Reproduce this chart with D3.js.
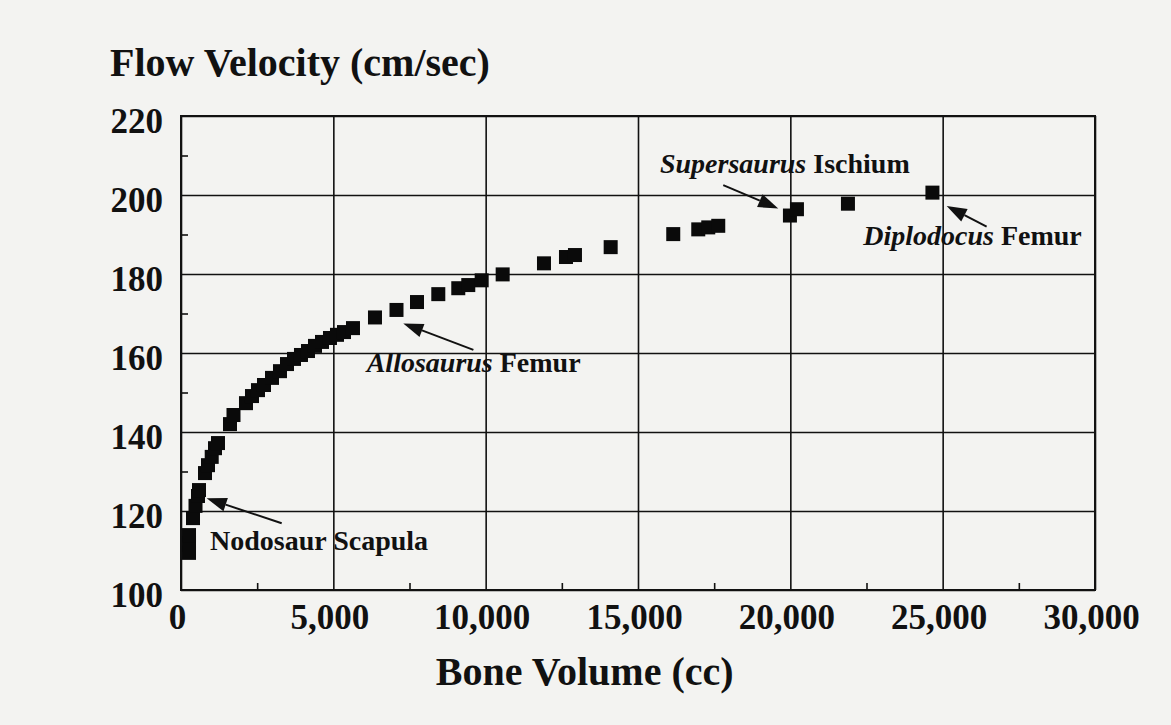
<!DOCTYPE html>
<html lang="en">
<head>
  <meta charset="utf-8"/>
  <title>Flow Velocity vs Bone Volume</title>
  <script src="https://cdnjs.cloudflare.com/ajax/libs/d3/7.8.5/d3.min.js"></script>
  <style>
    html, body { margin: 0; padding: 0; background: #f3f3f1; }
    svg { display: block; font-family: "Liberation Serif", "Times New Roman", serif; }
  </style>
</head>
<body>
<svg id="chart" width="1171" height="725"></svg>
<script>
  // bone volume (cc) and flow velocity (cm/sec)
  var volume = [263, 263, 263, 394, 476, 558, 591, 788, 886, 1008, 1116, 1214, 1608, 1723,
    2133, 2330, 2527, 2724, 2987, 3249, 3479, 3709, 3938, 4168, 4398, 4628, 4890, 5120, 5350, 5645,
    6367, 7073, 7746, 8445, 9101, 9429, 9869, 10558, 11914, 12636, 12931, 14103,
    16157, 16978, 17306, 17634, 19987, 20217, 21891, 24664];
  var velocity = [109.4, 111.9, 113.9, 118.2, 121.3, 123.8, 125.3, 129.6, 131.6, 133.7, 135.9, 137.2, 142.0, 144.3,
    147.3, 149.1, 150.6, 151.9, 153.7, 155.4, 157.2, 158.5, 159.5, 160.5, 161.8, 162.8, 163.8, 164.6, 165.3, 166.3,
    169.0, 170.9, 172.9, 174.9, 176.4, 177.2, 178.4, 179.9, 182.7, 184.3, 184.8, 186.8,
    190.1, 191.3, 191.8, 192.2, 194.8, 196.4, 197.8, 200.6];

  var xTicks = [0, 5000, 10000, 15000, 20000, 25000, 30000];
  var yTicks = [100, 120, 140, 160, 180, 200, 220];
  var xMinor = [2500, 7500, 12500, 17500, 22500, 27500];
  var yMinor = [110, 130, 150, 170, 190, 210];

  // annotations: label parts, label anchor, arrow tail and arrow tip (data units)
  var notes = [
    { parts: [["Nodosaur", false], [" Scapula", false]], at: [952, 110.1], from: [3305, 116.9], to: [843, 123.2] },
    { parts: [["Allosaurus", true], [" Femur", false]], at: [6095, 155.3], from: [9597, 160.8], to: [7296, 167.5] },
    { parts: [["Supersaurus", true], [" Ischium", false]], at: [15721, 205.5], from: [17798, 202.5], to: [19603, 196.6] },
    { parts: [["Diplodocus", true], [" Femur", false]], at: [22393, 187.3], from: [26443, 192.0], to: [25131, 197.2] }
  ];

  var margin = { top: 116, left: 181, right: 76, bottom: 135 };
  var svg = d3.select("#chart");
  var W = +svg.attr("width"), H = +svg.attr("height");
  var w = W - margin.left - margin.right, h = H - margin.top - margin.bottom;
  var serif = '"Liberation Serif", "Times New Roman", serif';

  var x = d3.scaleLinear().domain([0, 30000]).range([0, w]);
  var y = d3.scaleLinear().domain([100, 220]).range([h, 0]);

  var g = svg.append("g").attr("transform", "translate(" + margin.left + "," + margin.top + ")");

  // grid lines + labels
  var gx = g.append("g").attr("transform", "translate(0," + h + ")")
    .call(d3.axisBottom(x).tickValues(xTicks).tickSize(-h).tickPadding(14).tickFormat(d3.format(",")));
  var gy = g.append("g")
    .call(d3.axisLeft(y).tickValues(yTicks).tickSize(-w).tickPadding(18).tickFormat(d3.format("d")));
  [gx, gy].forEach(function(a) {
    a.attr("font-family", serif).attr("font-size", 35);
    a.select(".domain").remove();
    a.selectAll(".tick line").attr("stroke", "#111").attr("stroke-width", 1.6);
    a.selectAll(".tick text").attr("fill", "#111").style("font-weight", "bold");
  });
  gx.selectAll(".tick text").attr("dx", -4).attr("dy", "0.72em");
  gy.selectAll(".tick text").attr("dy", "0.48em");

  // minor ticks, inside the frame
  g.append("g").attr("transform", "translate(0," + h + ")")
    .call(d3.axisBottom(x).tickValues(xMinor).tickSize(-7).tickFormat(""))
    .call(function(a) { a.select(".domain").remove(); a.selectAll("line").attr("stroke", "#111").attr("stroke-width", 1.6); });
  g.append("g")
    .call(d3.axisLeft(y).tickValues(yMinor).tickSize(-7).tickFormat(""))
    .call(function(a) { a.select(".domain").remove(); a.selectAll("line").attr("stroke", "#111").attr("stroke-width", 1.6); });

  // frame
  g.append("rect").attr("width", w).attr("height", h)
    .attr("fill", "none").attr("stroke", "#111").attr("stroke-width", 2);

  // points
  var s = 14;
  g.selectAll("rect.pt")
    .data(volume.map(function(v, i) { return [v, velocity[i]]; }))
    .enter().append("rect")
    .attr("class", "pt")
    .attr("x", function(d) { return x(d[0]) - s / 2; })
    .attr("y", function(d) { return y(d[1]) - s / 2; })
    .attr("width", s).attr("height", s)
    .attr("fill", "#0a0a0a");

  // arrows
  notes.forEach(function(n) {
    var x1 = x(n.from[0]), y1 = y(n.from[1]), x2 = x(n.to[0]), y2 = y(n.to[1]);
    var ang = Math.atan2(y2 - y1, x2 - x1);
    var len = 20, half = 7;
    var bx = x2 - len * Math.cos(ang), by = y2 - len * Math.sin(ang);
    g.append("line").attr("x1", x1).attr("y1", y1).attr("x2", bx).attr("y2", by)
      .attr("stroke", "#111").attr("stroke-width", 2);
    g.append("path")
      .attr("d", "M" + x2 + "," + y2 +
        "L" + (bx + half * Math.sin(ang)) + "," + (by - half * Math.cos(ang)) +
        "L" + (bx - half * Math.sin(ang)) + "," + (by + half * Math.cos(ang)) + "Z")
      .attr("fill", "#111");

    var t = g.append("text").attr("x", x(n.at[0])).attr("y", y(n.at[1]))
      .attr("fill", "#111").style("font-size", "28px").style("font-weight", "bold");
    n.parts.forEach(function(p) {
      t.append("tspan").text(p[0]).style("font-style", p[1] ? "italic" : "normal");
    });
  });

  // axis titles
  svg.append("text").attr("x", 110).attr("y", 76)
    .attr("fill", "#111").style("font-size", "40px").style("font-weight", "bold")
    .text("Flow Velocity (cm/sec)");
  svg.append("text").attr("x", margin.left + x(13250)).attr("y", 685)
    .attr("text-anchor", "middle")
    .attr("fill", "#111").style("font-size", "40px").style("font-weight", "bold")
    .text("Bone Volume (cc)");
</script>
</body>
</html>
